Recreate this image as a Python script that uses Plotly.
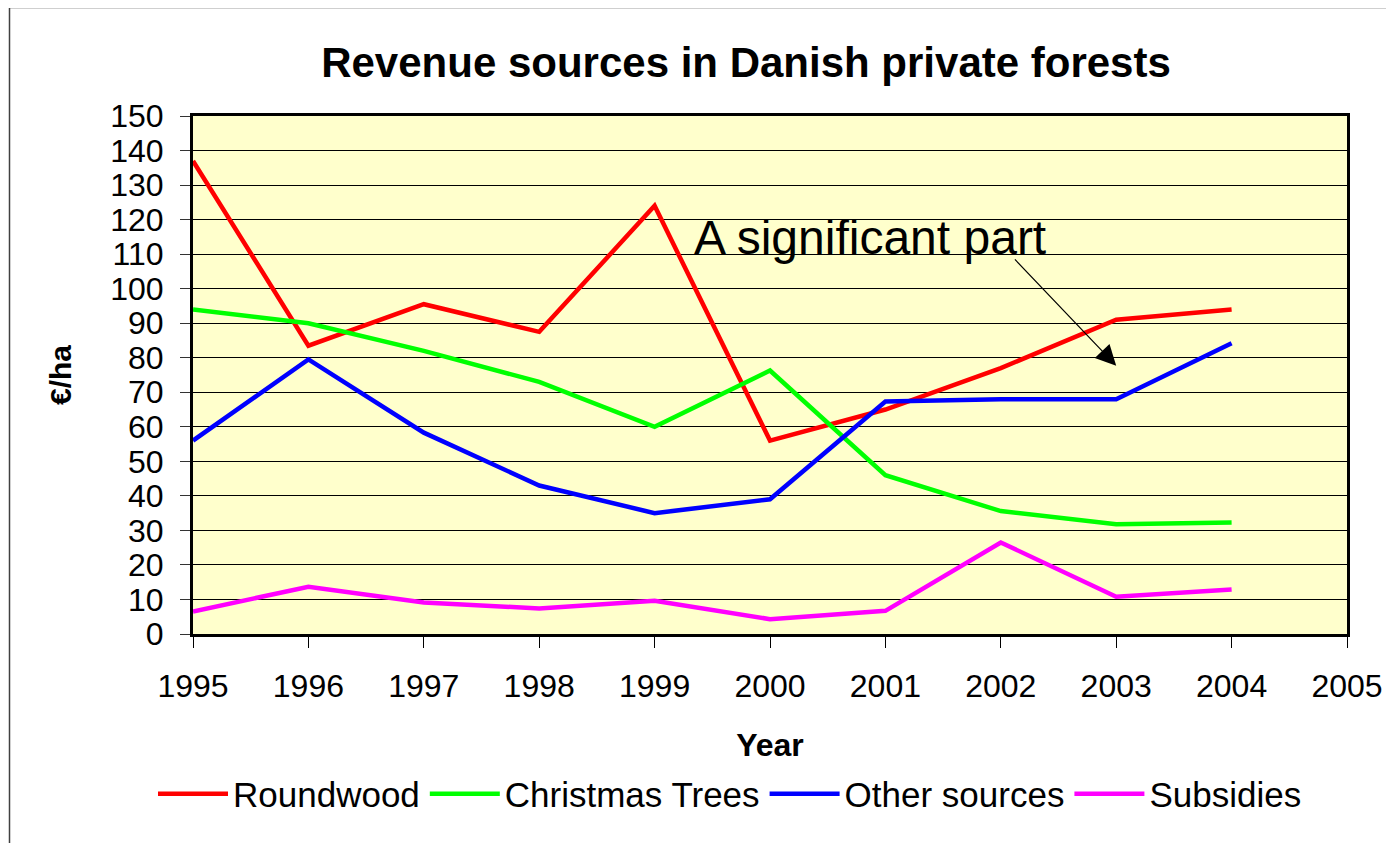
import plotly.graph_objects as go

years = [1995, 1996, 1997, 1998, 1999, 2000, 2001, 2002, 2003, 2004]
roundwood = [137, 83.5, 95.5, 87.5, 124, 56, 65, 77, 91, 94]
christmas_trees = [94, 90, 82, 73, 60, 76.3, 46, 35.6, 31.8, 32.3]
other_sources = [56, 79.5, 58.3, 43, 35, 39, 67.3, 68, 68, 84.2]
subsidies = [6.5, 13.7, 9.1, 7.4, 9.6, 4.3, 6.7, 26.5, 10.8, 12.9]

series_names = ["Roundwood", "Christmas Trees", "Other sources", "Subsidies"]
series_values = [roundwood, christmas_trees, other_sources, subsidies]
series_colors = ["#FF0000", "#00FF00", "#0000FF", "#FF00FF"]

x_ticks = list(range(1995, 2006))
y_ticks = list(range(0, 151, 10))

FONT = "Liberation Sans, Arial, sans-serif"

fig = go.Figure()
for name, vals, col in zip(series_names, series_values, series_colors):
    fig.add_trace(go.Scatter(x=years, y=vals, name=name, mode="lines",
                             line=dict(color=col, width=4.5)))

# page body margin offset (browser default 8px)
O = 8
W, H = 1394 - O, 843 - O
L, T = 193 - O, 116 - O
R = W - (1347 - O)
B = H - (634 - O)
pw, ph = W - L - R, H - T - B


def px2paper_x(px):  # px in reference-screenshot coordinates
    return (px - O - L) / pw


def px2paper_y(py):
    return (H - B - (py - O)) / ph


fig.update_layout(
    width=W, height=H,
    margin=dict(l=L, r=R, t=T, b=B),
    paper_bgcolor="white",
    plot_bgcolor="#FFFFCC",
    font=dict(family=FONT, color="black"),
    title=dict(text="<b>Revenue sources in Danish private forests</b>",
               x=(746 - O) / W, xanchor="center", y=1 - (62 - O) / H,
               yanchor="middle",
               font=dict(size=42, family=FONT, color="black")),
    showlegend=True,
    legend=dict(orientation="h", x=px2paper_x(730), xanchor="center",
                y=px2paper_y(794), yanchor="middle",
                font=dict(size=35, family=FONT, color="black"),
                itemwidth=70, bgcolor="rgba(0,0,0,0)"),
    xaxis=dict(range=[1995, 2005], tickvals=x_ticks,
               ticktext=[str(v) for v in x_ticks],
               showgrid=False, zeroline=False,
               showline=True, linecolor="black", linewidth=3, mirror=True,
               ticks="outside", ticklen=11, tickcolor="black", tickwidth=1,
               tickfont=dict(size=32, family=FONT, color="black"),
               ticklabelstandoff=11,
               title=dict(text="<b>Year</b>", standoff=31,
                          font=dict(size=32, family=FONT, color="black"))),
    yaxis=dict(range=[0, 150], tickvals=y_ticks,
               showgrid=True, gridcolor="black", gridwidth=1,
               zeroline=False,
               showline=True, linecolor="black", linewidth=3, mirror=True,
               ticks="outside", ticklen=10, tickcolor="#333333", tickwidth=1,
               tickfont=dict(size=32, family=FONT, color="black"),
               ticklabelstandoff=10,
               title=dict(text="<b>€/ha</b>", standoff=30,
                          font=dict(size=30, family=FONT, color="black"))),
)

# outer chart border
fig.add_shape(type="rect", xref="paper", yref="paper",
              x0=px2paper_x(9.5), x1=px2paper_x(1410),
              y0=px2paper_y(860), y1=px2paper_y(7.5),
              line=dict(color="#404040", width=1.5), layer="below")

# text annotation
fig.add_annotation(x=1999.32, y=114.7, xref="x", yref="y",
                   text="A significant part", showarrow=False,
                   xanchor="left", yanchor="middle",
                   font=dict(size=48, family=FONT, color="black"))
# arrow
fig.add_annotation(x=2003.0, y=77.7, ax=2002.11, ay=108.9,
                   xref="x", yref="y", axref="x", ayref="y",
                   text="", showarrow=True, arrowhead=2, arrowsize=3.4,
                   arrowwidth=1.2, arrowcolor="black")

fig.write_html("out.html")
